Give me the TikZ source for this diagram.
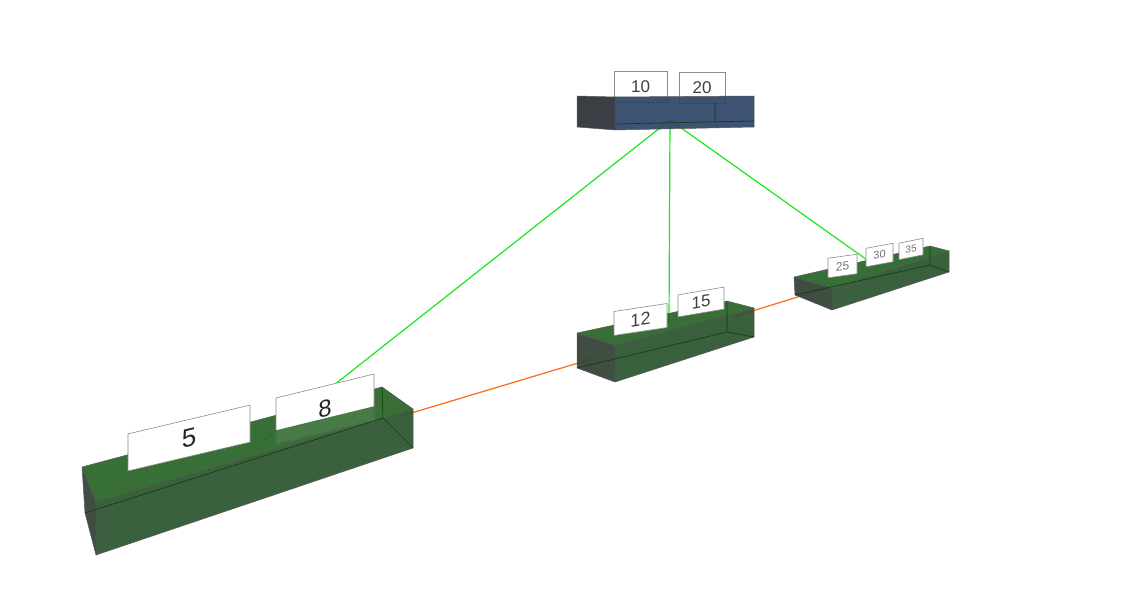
\documentclass[tikz,border=0pt]{standalone}
\usepackage{fontspec}
\setmainfont{Liberation Sans}
\definecolor{leaftop}{RGB}{40,100,40}
\definecolor{leaffront}{RGB}{44,84,46}
\definecolor{leafend}{RGB}{50,64,52}
\definecolor{rootfront}{RGB}{46,70,102}
\definecolor{rootend}{RGB}{44,47,55}
\definecolor{treegreen}{RGB}{30,230,30}
\definecolor{leaforange}{RGB}{255,105,20}
\newcommand\fs[1]{\fontsize{#1}{#1}\selectfont}

\begin{document}
\begin{tikzpicture}[x=1pt,y=-1pt,
        face/.style={fill opacity=0.93,draw=black!65,line width=0.5pt,line join=round},
        hidden/.style={draw=black!80!green,opacity=0.8,line width=0.6pt},
        card/.style={draw=black!45,fill=white,line width=0.6pt,inner sep=0pt},
        treelink/.style={draw=treegreen,line width=1.2pt},
        leaflink/.style={draw=leaforange,line width=1.2pt}]
    \useasboundingbox (0,0) rectangle (1128,602);

    \coordinate (hub) at (670,120);
    \coordinate (t5) at (263,441);
    \coordinate (t12) at (669,323);
    \coordinate (t25) at (877,267);
    \coordinate (o1) at (398,417);
    \coordinate (o2) at (595,358);
    \coordinate (o3) at (733,317);
    \coordinate (o4) at (830,287);
    \path
        (hub) edge[treelink] (t5)
        (hub) edge[treelink] (t12)
        (hub) edge[treelink] (t25)
        (o1) edge[leaflink] (o2)
        (o3) edge[leaflink] (o4);

    \node[card,minimum width=53pt,minimum height=31pt,font=\fs{17},text=black!75] (k10) at (640.5,87) {10};
    \node[card,minimum width=46pt,minimum height=31pt,font=\fs{17},text=black!75] (k20) at (702,87.5) {20};
    \path[face,fill=rootend] (577,96) -- (615,97) -- (615,130) -- (577,127) -- cycle;
    \path[face,fill=rootfront] (615,97) -- (754,96) -- (754,127) -- (615,130) -- cycle;
    \draw[hidden] (715,103) -- (715,122) (615,124) -- (754,121);

    \path[face,fill=leafend] (794,277) -- (832,288) -- (832,310) -- (795,295) -- cycle;
    \path[face,fill=leaftop] (794,277) -- (930,246) -- (949,251) -- (832,288) -- cycle;
    \path[face,fill=leaffront] (832,288) -- (949,251) -- (949,272) -- (832,310) -- cycle;
    \draw[hidden] (795,295) -- (930,265) -- (930,246) (930,265) -- (949,272);
    \node[card,minimum width=29pt,minimum height=19.5pt,yslant=0.14,font=\fs{12},text=black!55] (k25) at (842.5,266) {25};
    \node[card,minimum width=27pt,minimum height=18.5pt,yslant=0.185,font=\fs{11},text=black!55] (k30) at (879.5,255) {30};
    \node[card,minimum width=24pt,minimum height=16.5pt,yslant=0.2,font=\fs{10},text=black!55] (k35) at (911,249) {35};

    \path[face,fill=leafend] (577,333) -- (615,345) -- (615,382) -- (577,368) -- cycle;
    \path[face,fill=leaftop] (577,333) -- (727,301) -- (754,308) -- (615,345) -- cycle;
    \path[face,fill=leaffront] (615,345) -- (754,308) -- (754,337) -- (615,382) -- cycle;
    \draw[hidden] (577,368) -- (727,332) -- (727,301) (727,332) -- (754,337);
    \node[card,minimum width=53pt,minimum height=24pt,yslant=0.15,font=\fs{18},text=black!75] (k12) at (640.5,319.5) {12};
    \node[card,minimum width=46pt,minimum height=22pt,yslant=0.17,font=\fs{17},text=black!75] (k15) at (701,302) {15};

    \path[face,fill=leafend] (82,467) -- (96,502) -- (96,555) -- (85,513) -- cycle;
    \path[face,fill=leaftop] (82,467) -- (382,387) -- (413,409) -- (96,502) -- cycle;
    \path[face,fill=leaffront] (96,502) -- (413,409) -- (413,448) -- (96,555) -- cycle;
    \draw[hidden] (85,513) -- (383,418) -- (382,387) (383,418) -- (413,448);
    \node[card,minimum width=98pt,minimum height=46pt,yslant=0.245,font=\fs{24},text=black!85] (k8) at (325,409) {8};
    \path[fill=leaftop,fill opacity=0.85] (k8.south west) -- (k8.south east)
        -- ([yshift=14pt]k8.south east) -- ([yshift=14pt]k8.south west) -- cycle;
    \node[card,minimum width=122pt,minimum height=37pt,yslant=0.236,font=\fs{26},text=black!85] (k5) at (189,438) {5};
\end{tikzpicture}
\end{document}
